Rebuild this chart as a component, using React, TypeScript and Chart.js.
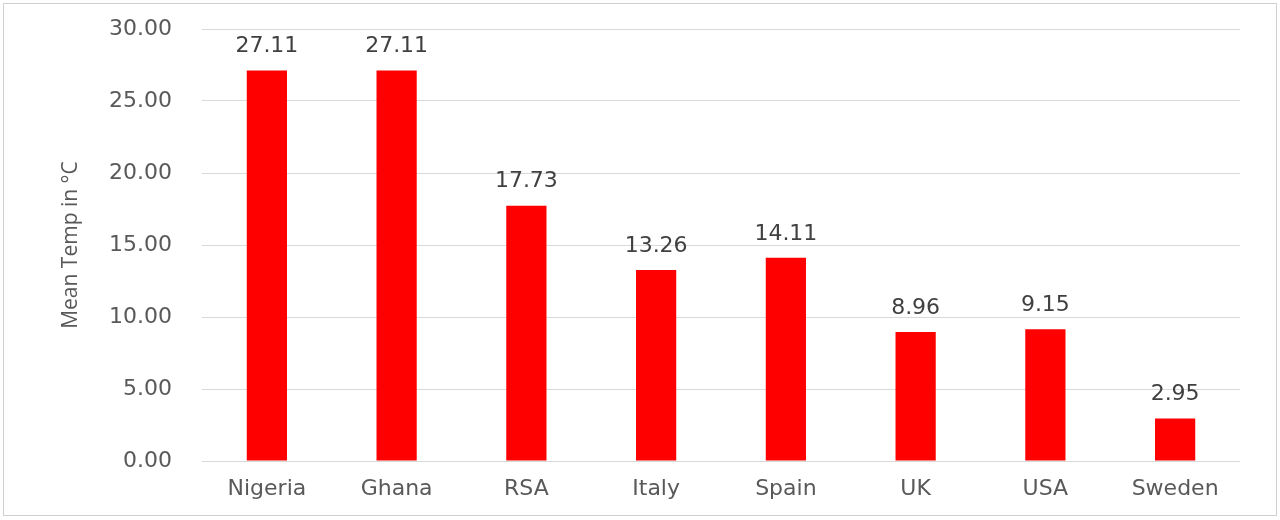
import { useEffect, useRef } from 'react';
import { Chart, registerables } from 'chart.js';
import type { Plugin } from 'chart.js';

Chart.register(...registerables);

const countries: string[] = ['Nigeria', 'Ghana', 'RSA', 'Italy', 'Spain', 'UK', 'USA', 'Sweden'];
const meanTemps: number[] = [27.11, 27.11, 17.73, 13.26, 14.11, 8.96, 9.15, 2.95];
const yTicks: number[] = [0, 5, 10, 15, 20, 25, 30];

const FONT = "'DejaVu Sans', 'Open Sans', sans-serif";

// draws the value above each bar, like the Excel data labels
const valueLabels: Plugin<'bar'> = {
	id: 'valueLabels',
	afterDatasetsDraw(chart) {
		const { ctx } = chart;
		const meta = chart.getDatasetMeta(0);
		ctx.save();
		ctx.font = `22px ${FONT}`;
		ctx.fillStyle = '#404040';
		ctx.textAlign = 'center';
		ctx.textBaseline = 'bottom';
		meta.data.forEach((bar, i) => {
			ctx.fillText(meanTemps[i].toFixed(2), bar.x, bar.y - 13);
		});
		ctx.restore();
	},
};

function App() {
	const canvasRef = useRef<HTMLCanvasElement | null>(null);

	useEffect(() => {
		document.body.style.margin = '0';
		if (!canvasRef.current) {
			return undefined;
		}

		const chart = new Chart(canvasRef.current, {
			type: 'bar',
			data: {
				labels: countries,
				datasets: [
					{
						label: 'Mean Temp',
						data: meanTemps,
						backgroundColor: '#ff0000',
						borderWidth: 0,
						categoryPercentage: 1,
						barPercentage: 0.31,
					},
				],
			},
			options: {
				animation: false,
				responsive: true,
				maintainAspectRatio: false,
				layout: {
					padding: { left: 0, right: 40, top: 29, bottom: 0 },
				},
				plugins: {
					legend: { display: false },
					tooltip: { enabled: false },
				},
				scales: {
					y: {
						min: 0,
						max: 30,
						afterFit: (scale) => {
							scale.width = 202;
						},
						afterBuildTicks: (scale) => {
							scale.ticks = yTicks.map((v) => ({ value: v }));
						},
						ticks: {
							padding: 0,
							color: '#595959',
							font: { family: FONT, size: 22 },
							callback: (v) => Number(v).toFixed(2),
						},
						grid: {
							color: '#d9d9d9',
							lineWidth: 1,
							drawTicks: true,
							tickLength: 30,
							tickColor: 'rgba(0,0,0,0)',
						},
						border: { display: false },
						title: {
							display: true,
							text: 'Mean Temp in °C',
							color: '#595959',
							font: { family: "'Open Sans', sans-serif", size: 21 },
							padding: { top: 58, bottom: 0 },
						},
					},
					x: {
						afterFit: (scale) => {
							scale.height = 59;
						},
						ticks: {
							padding: 15,
							color: '#595959',
							font: { family: FONT, size: 22 },
						},
						grid: { display: false, drawTicks: false },
						border: { display: false },
					},
				},
			},
			plugins: [valueLabels],
		});

		return () => {
			chart.destroy();
		};
	}, []);

	return (
		<div style={{ position: 'relative', width: 1280, height: 520, background: '#ffffff' }}>
			<div
				style={{
					position: 'absolute',
					left: 3,
					top: 3,
					width: 1272,
					height: 511,
					border: '1px solid #d0d0d0',
				}}
			/>
			<canvas ref={canvasRef}></canvas>
		</div>
	);
}

export default App;
